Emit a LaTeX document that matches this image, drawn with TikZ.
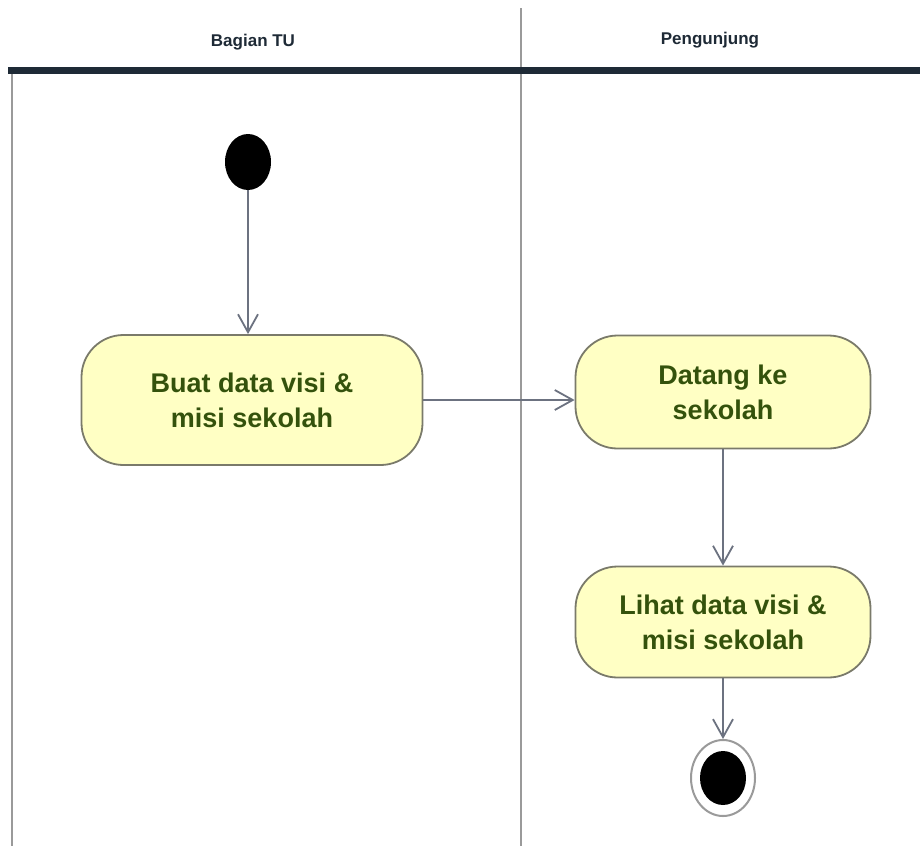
\documentclass[tikz,border=0pt]{standalone}
\usepackage{fontspec}
\setmainfont{Liberation Sans}
\usetikzlibrary{arrows.meta,shapes.geometric}
\definecolor{actfill}{HTML}{FFFFC4}
\definecolor{actdraw}{HTML}{7A7A6A}
\definecolor{acttext}{HTML}{34520C}
\definecolor{flow}{HTML}{6C7280}
\definecolor{lane}{HTML}{9A9A9A}
\definecolor{hdr}{HTML}{1E2A36}
\begin{document}
\begin{tikzpicture}[x=1pt,y=-1pt,
 action/.style={draw=actdraw, line width=1.8pt, fill=actfill, rounded corners=42pt, inner sep=0pt, align=center, text=acttext, font=\fontsize{27}{35}\selectfont\bfseries},
 flowarrow/.style={draw=flow, line width=1.8pt, -{Straight Barb[length=18pt,width=20pt,line width=1.8pt]}},
 lanetitle/.style={font=\fontsize{17}{20}\selectfont\bfseries, text=hdr},
]
\useasboundingbox (0,0) rectangle (920,846);
\fill[white] (0,0) rectangle (920,846);
\draw[lane, line width=1.5pt] (12,70) -- (12,846);
\draw[lane, line width=1.5pt] (521,8) -- (521,846);
\draw[hdr, line width=7pt] (8,70) -- (920,70);
\node[lanetitle] (lane1) at (253,42) {Bagian TU};
\node[lanetitle] (lane2) at (710,40) {Pengunjung};

\node[ellipse, fill=black, minimum width=46pt, minimum height=56pt, inner sep=0pt] (start) at (248,162) {};
\node[action, minimum width=341pt, minimum height=130pt] (a1) at (252,400) {Buat data visi \&\\misi sekolah};
\node[action, minimum width=295pt, minimum height=113pt] (a2) at (723,392) {Datang ke\\sekolah};
\node[action, minimum width=295pt, minimum height=111pt] (a3) at (723,622) {Lihat data visi \&\\misi sekolah};
\node[ellipse, draw=lane, line width=2pt, fill=white, minimum width=64pt, minimum height=76pt, inner sep=0pt] (final) at (723,778) {};
\fill[black] (final.center) ellipse [x radius=23pt, y radius=27pt];

\draw[flowarrow] (start.south) -- (start.south |- a1.north);
\draw[flowarrow] (a1.east) -- (a1.east -| a2.west);
\draw[flowarrow] (a2.south) -- (a3.north);
\draw[flowarrow] (a3.south) -- (final.north);
\end{tikzpicture}
\end{document}
